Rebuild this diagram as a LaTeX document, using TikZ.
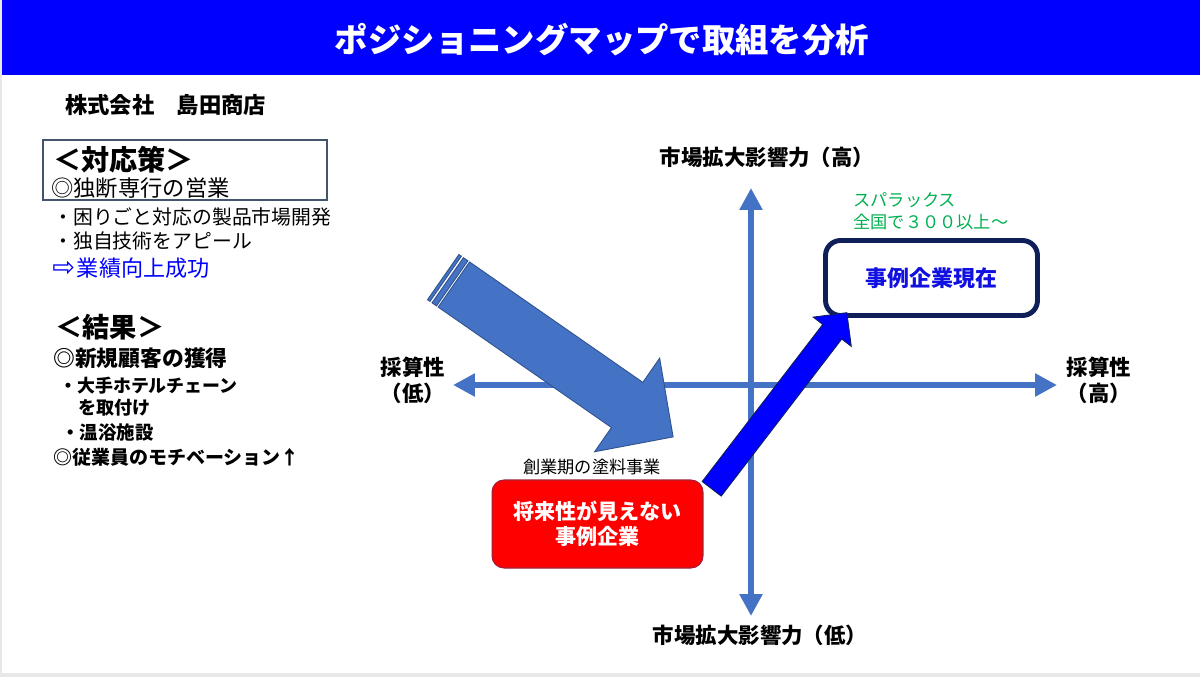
\documentclass[tikz,border=0pt]{standalone}
\usepackage{fontspec}
\setmainfont{Noto Sans CJK JP}
\newfontfamily\symfont{DejaVu Sans}
\usetikzlibrary{arrows.meta}

\definecolor{barblue}{HTML}{0000FF}
\definecolor{axisblue}{HTML}{4472C4}
\definecolor{arrowedge}{HTML}{2F528F}
\definecolor{navy}{HTML}{0F1F5A}
\definecolor{sparagreen}{HTML}{00B050}
\definecolor{pastred}{HTML}{FF0000}
\definecolor{pastedge}{HTML}{A0203A}
\definecolor{nowtext}{HTML}{1010E0}
\definecolor{framegray}{HTML}{44546A}

\newcommand\fsz[2]{\fontsize{#1}{#2}\selectfont}

\tikzset{
  lbl/.style={inner sep=0pt, anchor=west},
  axis/.style={axisblue, line width=3.4pt,
    {Triangle[length=12.5pt,width=12.5pt]}-{Triangle[length=12.5pt,width=12.5pt]}},
  axlbl/.style={font=\bfseries\fsz{12.2}{14.7}, align=center, inner sep=0pt},
  bigarrow/.style={fill=axisblue, draw=arrowedge, line width=0.5pt},
  uparrow/.style={fill=barblue, draw=navy, line width=0.5pt},
  pastbox/.style={fill=pastred, draw=pastedge, line width=0.6pt, rounded corners=0.24cm,
    minimum width=4.22cm, minimum height=1.76cm, text=white,
    font=\bfseries\fsz{12}{14.2}, align=center},
  nowbox/.style={fill=white, draw=navy, line width=2.8pt, rounded corners=0.3cm,
    minimum width=4.24cm, minimum height=1.5cm, text=nowtext,
    font=\bfseries\fsz{12.5}{15}}
}

\begin{document}
\begin{tikzpicture}[x=0.02cm, y=-0.02cm]
  \useasboundingbox (0,0) rectangle (1200,677);
  \fill[gray!18] (0,0) rectangle (1200,677);
  \fill[white] (2,0) rectangle (1200,673);
  \fill[barblue] (2,0) rectangle (1200,75);
  \node[font=\bfseries\fsz{19}{23}, text=white] (title) at (602,40) {ポジショニングマップで取組を分析};

  \node[lbl, font=\bfseries\fsz{12.7}{15}] (firm) at (65,105) {株式会社　島田商店};
  \draw[framegray, line width=0.6pt] (43,140) rectangle (327,200);
  \node[lbl, font=\bfseries\fsz{16}{19}] (measures) at (53,160) {＜対応策＞};
  \node[lbl, font=\fsz{12.7}{15}] (policy) at (51,188) {◎独断専行の営業};
  \node[lbl, font=\fsz{11.3}{14}] (item1) at (53,217) {・困りごと対応の製品市場開発};
  \node[lbl, font=\fsz{11.3}{14}] (item2) at (53,241) {・独自技術をアピール};
  \node[lbl, font=\fsz{12.6}{15}, text=barblue] (gain) at (52,268)
    {{\symfont\fsz{15.5}{15}⇨}\hspace{1pt}業績向上成功};

  \node[lbl, font=\bfseries\fsz{15.5}{18}] (results) at (55,327) {＜結果＞};
  \node[lbl, font=\bfseries\fsz{12.4}{15}] (newcust) at (53,358) {◎新規顧客の獲得};
  \node[lbl, font=\bfseries\fsz{10.2}{13}] (hotel) at (59,386) {・大手ホテルチェーン};
  \node[lbl, font=\bfseries\fsz{10.3}{13}] (attach) at (78,408) {を取付け};
  \node[lbl, font=\bfseries\fsz{10.5}{13}] (spa) at (61,432) {・温浴施設};
  \node[lbl, font=\bfseries\fsz{10.8}{13}] (morale) at (53,457) {◎従業員のモチベーション↑};

  \coordinate (xlo) at (453,385);
  \coordinate (xhi) at (1057,385);
  \coordinate (ylo) at (751,616);
  \coordinate (yhi) at (751,188);
  \draw[axis] (xlo) -- (xhi);
  \draw[axis] (ylo) -- (yhi);
  \node[axlbl] (yhil) at (767,157) {市場拡大影響力（高）};
  \node[axlbl] (ylol) at (760,635) {市場拡大影響力（低）};
  \node[axlbl] (xlol) at (413,380) {採算性\\（低）};
  \node[axlbl] (xhil) at (1099,380) {採算性\\（高）};

  \coordinate (pushtail) at (443.2,277.1);
  \begin{scope}[shift={(pushtail)}, rotate=-34.8]
    \filldraw[bigarrow] (0,-27.5) rectangle (3,27.5);
    \filldraw[bigarrow] (5.5,-27.5) rectangle (11,27.5);
    \filldraw[bigarrow] (13,-27.5) -- (224,-27.5) -- (224,-57) -- (280,0)
      -- (224,57) -- (224,27.5) -- (13,27.5) -- cycle;
  \end{scope}

  \node[font=\fsz{9.8}{12}] (origin) at (592,467) {創業期の塗料事業};
  \node[pastbox] (past) at (597.5,524) {将来性が見えない\\事例企業};
  \node[nowbox] (now) at (931.5,278) {事例企業現在};
  \node[lbl, text=sparagreen, font=\fsz{9.8}{12.5}, align=left] (spara) at (853,211)
    {スパラックス\\全国で３００以上～};

  \coordinate (risetail) at (711.7,488.8);
  \begin{scope}[shift={(risetail)}, rotate=52.5]
    \filldraw[uparrow] (0,-12) -- (198,-12) -- (198,-24) -- (222,0)
      -- (198,24) -- (198,12) -- (0,12) -- cycle;
  \end{scope}
\end{tikzpicture}
\end{document}
